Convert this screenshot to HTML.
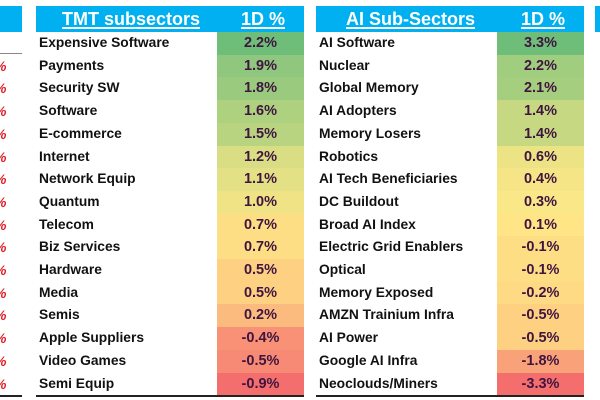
<!DOCTYPE html>
<html><head><meta charset="utf-8"><style>
body{margin:0;width:600px;height:400px;background:#fff;overflow:hidden;position:relative;font-family:"Liberation Sans",sans-serif;}
.blk{position:absolute;top:6px;}
.hdr{position:absolute;top:0;height:26px;background:#00B0F0;color:#fff;font-weight:bold;font-size:18px;line-height:26px;}
.hdr span{position:absolute;text-decoration:underline;text-decoration-thickness:1.5px;text-underline-offset:2px;}
.row{position:absolute;font-weight:bold;font-size:13.8px;color:#111;}
.lbl{position:absolute;left:3px;white-space:nowrap;}
.val{position:absolute;text-align:center;color:#3f1540;font-size:14.5px;}
.bot{position:absolute;height:1.5px;background:#222;}
</style></head><body>
<div style="position:absolute;left:0;top:6px;width:22px;height:26px;background:#00B0F0"></div>
<div style="position:absolute;left:0;top:53px;width:22px;height:1px;background:#888"></div>
<div style="position:absolute;left:0;top:395px;width:22px;height:1.5px;background:#222"></div>
<div id="leftpct"></div>
<div style="position:absolute;left:595px;top:6px;width:5px;height:26px;background:#00B0F0"></div>
<div id="tables"></div>
<script>
const tmtNames=["Expensive Software","Payments","Security SW","Software","E-commerce","Internet","Network Equip","Quantum","Telecom","Biz Services","Hardware","Media","Semis","Apple Suppliers","Video Games","Semi Equip"];
const tmtValues=[2.2,1.9,1.8,1.6,1.5,1.2,1.1,1.0,0.7,0.7,0.5,0.5,0.2,-0.4,-0.5,-0.9];
const aiNames=["AI Software","Nuclear","Global Memory","AI Adopters","Memory Losers","Robotics","AI Tech Beneficiaries","DC Buildout","Broad AI Index","Electric Grid Enablers","Optical","Memory Exposed","AMZN Trainium Infra","AI Power","Google AI Infra","Neoclouds/Miners"];
const aiValues=[3.3,2.2,2.1,1.4,1.4,0.6,0.4,0.3,0.1,-0.1,-0.1,-0.2,-0.5,-0.5,-1.8,-3.3];
const ROW0=32,RH=22.7;
const G=[110,190,122],Y=[255,232,135],R=[245,110,110];
function mix(a,b,t){return 'rgb('+a.map((v,i)=>Math.round(v+(b[i]-v)*t)).join(',')+')';}
function color(v,vals){const s=[...vals].sort((a,b)=>a-b);const mn=s[0],mx=s[s.length-1];const md=(s[7]+s[8])/2;
 if(v>=md)return mix(Y,G,(v-md)/(mx-md||1));return mix(Y,R,(md-v)/(md-mn||1));}
function table(x,title,names,vals,name,titleX){
 const b=document.createElement('div');b.className='blk';b.style.left=x+'px';
 
 
 const h=document.createElement('div');h.className='hdr';h.style.left='0';h.style.width='268px';
 
 
 h.innerHTML='<span style="left:'+titleX+'px">'+title+'</span><span style="left:205px">1D %</span>';
 b.appendChild(h);
 names.forEach((n,i)=>{const r=document.createElement('div');r.className='row';
  
  
  const top=ROW0-6+i*RH;r.style.top=top+'px';r.style.left='0';r.style.width='268px';r.style.height=RH+'px';r.style.lineHeight=RH+'px';
  const l=document.createElement('div');l.className='lbl';l.textContent=n;
  
  
  const v=document.createElement('div');v.className='val';
  
  
  v.style.left='181px';v.style.width='87px';v.style.height=(RH+0.5)+'px';v.style.background=color(vals[i],vals);
  v.textContent=vals[i].toFixed(1)+'%';
  r.appendChild(l);r.appendChild(v);b.appendChild(r);});
 const bt=document.createElement('div');bt.className='bot';bt.style.left='0';bt.style.width='268px';bt.style.top=(395-6)+'px';
 
 
 b.appendChild(bt);
 document.getElementById('tables').appendChild(b);}
table(36,'TMT subsectors',tmtNames,tmtValues,'tmt-table',26);
table(316,'AI Sub-Sectors',aiNames,aiValues,'ai-table',30);
const lp=document.getElementById('leftpct');
for(let i=1;i<16;i++){const d=document.createElement('div');
 
 
 d.style.cssText='position:absolute;left:-6px;top:'+(ROW0+i*RH)+'px;height:'+RH+'px;line-height:'+RH+'px;font-size:14px;font-weight:bold;font-style:italic;color:#e0202a';
 d.textContent='%';lp.appendChild(d);}
</script>
</body></html>
